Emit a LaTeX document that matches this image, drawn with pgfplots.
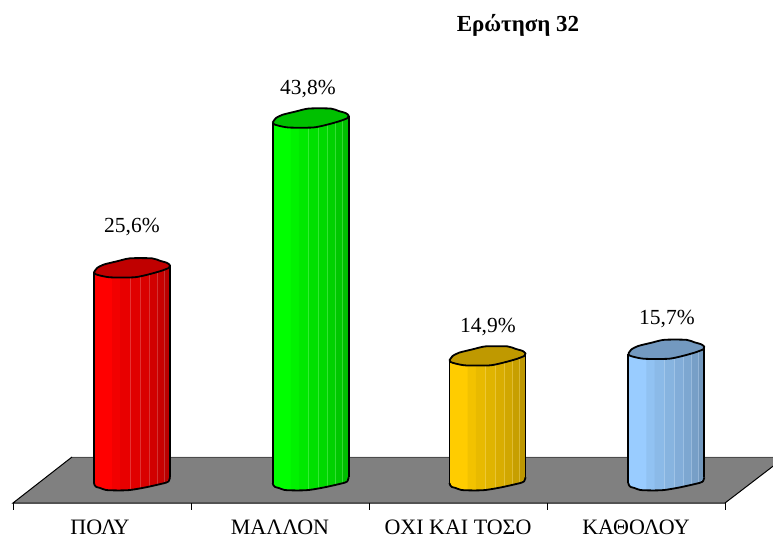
\documentclass[border=0pt]{standalone}
\usepackage{pgfplots}
\pgfplotsset{compat=1.18}
\usepackage{fontspec}
\setmainfont{Liberation Serif}
\newcommand\facet[6]{%
  \addplot[fill=#6,draw=none,forget plot] coordinates {
    ({#1+#3},{(#5)/8.23})
    ({#1+#4},{(\facetb)/8.23})
    ({#1+#4},{#2+(0.09*#4)/8.23})
    ({#1+#3},{#2+(0.09*#3)/8.23})} -- cycle;}
\newcommand\Fct[7]{\def\facetb{#6}\facet{#1}{#2}{#3}{#4}{#5}{#7}}
\newcommand\seam[5]{%
  \addplot[white,opacity=.2,line width=.7pt,forget plot] coordinates {
    ({#1+#3},{(#4)/8.23}) ({#1+#3},{#2+(#5)/8.23})};}
\newcommand\column[5]{% x, value, base colour, cap colour, darkest mix
  \addplot[fill=#3,draw=none,forget plot] coordinates {
    ({#1},{#2}) ({#1},0) ({#1+2.4},-0.486) ({#1+12},-0.85) ({#1+36},-0.85)
    ({#1+52},-0.52) ({#1+72},0.04) ({#1+76},0.61) ({#1+76},{#2+0.85})} -- cycle;
  \Fct{#1}{#2}{18}{26}{-7.2}{-7.2}{#3!95!black}
  \Fct{#1}{#2}{26}{36}{-7.2}{-7}{#3!91!black}
  \Fct{#1}{#2}{36}{46}{-7}{-5.3}{#3!88!black}
  \Fct{#1}{#2}{46}{55}{-5.3}{-3.6}{#3!85!black}
  \Fct{#1}{#2}{55}{63}{-3.6}{-2}{#3!82!black}
  \Fct{#1}{#2}{63}{70}{-2}{-0.3}{#3!78!black}
  \Fct{#1}{#2}{70}{76}{-0.3}{5}{#3!#5!black}
  \seam{#1}{#2}{36}{-7}{3}
  \seam{#1}{#2}{46}{-5.3}{4}
  \seam{#1}{#2}{55}{-3.6}{5}
  \seam{#1}{#2}{63}{-2}{5.5}
  \seam{#1}{#2}{70}{-0.3}{6}
  \addplot[black,line width=1.8pt,line join=round,forget plot] coordinates {({#1},{#2}) ({#1},0)};
  \addplot[black,line width=1.8pt,line join=round,forget plot] coordinates {({#1+76},{#2+0.85}) ({#1+76},0.7)};
  \addplot[black,line width=1.8pt,line join=round,smooth,tension=0.45,forget plot] coordinates {
    ({#1},0) ({#1+0.8},-0.3) ({#1+2.4},-0.486) ({#1+6},-0.6) ({#1+12},-0.85) ({#1+24},-0.9) ({#1+36},-0.85)
    ({#1+52},-0.52) ({#1+72},0.04) ({#1+75},0.3) ({#1+76},0.7)};
  \addplot[fill=#4,draw=black,line width=1.8pt,line join=round,smooth,tension=0.4,forget plot] coordinates {
    ({#1},{#2}) ({#1+3},{#2+0.52}) ({#1+9.7},{#2+0.94}) ({#1+23},{#2+1.34}) ({#1+36},{#2+1.7})
    ({#1+58},{#2+1.7}) ({#1+66},{#2+1.4}) ({#1+73},{#2+1.15}) ({#1+76},{#2+0.85}) ({#1+75},{#2+0.55})
    ({#1+68},{#2+0.21}) ({#1+59.7},{#2-0.09}) ({#1+49.7},{#2-0.4}) ({#1+39.7},{#2-0.61}) ({#1+16.3},{#2-0.61})
    ({#1+6.3},{#2-0.4}) ({#1+1.3},{#2-0.21}) ({#1},{#2})};}
\definecolor{cRed}{RGB}{255,0,0}\definecolor{cRedT}{RGB}{192,0,0}
\definecolor{cGrn}{RGB}{0,255,0}\definecolor{cGrnT}{RGB}{0,192,0}
\definecolor{cYel}{RGB}{255,204,0}\definecolor{cYelT}{RGB}{191,153,0}
\definecolor{cBlu}{RGB}{153,204,255}\definecolor{cBluT}{RGB}{115,153,192}
\begin{document}
\begin{tikzpicture}
\begin{axis}[
  at={(0,0)},anchor=south west,
  scale only axis,width=773pt,height=537pt,
  xmin=0,xmax=773,ymin=-6.561,ymax=58.688,
  axis line style={draw=none},major tick style={draw=none},major tick length=0pt,
  ytick=\empty,
  xtick={100,280,458,636},
  xticklabels={ΠΟΛΥ,ΜΑΛΛΟΝ,ΟΧΙ ΚΑΙ ΤΟΣΟ,ΚΑΘΟΛΟΥ},
  xticklabel style={anchor=base,yshift=3pt,font=\fontsize{22}{24}\selectfont},
]
% floor
\addplot[fill=black!50,draw=none,forget plot] coordinates {(13,-2.43)(725,-2.43)(785,3.16)(72,3.16)} -- cycle;
\addplot[black!70,line width=.9pt,forget plot] coordinates {(72,3.16)(785,3.16)};
\addplot[black,line width=1pt,forget plot] coordinates {(72,3.16)(13,-2.43)(725,-2.43)(785,3.16)};
% ticks
\addplot[black,line width=.8pt,forget plot] coordinates {(13,-2.43)(13,-3.28)};
\addplot[black,line width=.8pt,forget plot] coordinates {(191,-2.43)(191,-3.28)};
\addplot[black,line width=.8pt,forget plot] coordinates {(369,-2.43)(369,-3.28)};
\addplot[black,line width=.8pt,forget plot] coordinates {(547,-2.43)(547,-3.28)};
\addplot[black,line width=.8pt,forget plot] coordinates {(725,-2.43)(725,-3.28)};
% columns
\column{94}{25.6}{cRed}{cRedT}{72}
\column{272.7}{43.8}{cGrn}{cGrnT}{74}
\column{449.5}{14.9}{cYel}{cYelT}{74}
\column{628.3}{15.7}{cBlu}{cBluT}{74}
% labels
\node[font=\fontsize{21.5}{24}\selectfont] at (axis cs:132,31.1) {25,6\%};
\node[font=\fontsize{21.5}{24}\selectfont] at (axis cs:308,47.9) {43,8\%};
\node[font=\fontsize{21.5}{24}\selectfont] at (axis cs:488,19) {14,9\%};
\node[font=\fontsize{21.5}{24}\selectfont] at (axis cs:667,19.9) {15,7\%};
\node[font=\fontsize{23}{24}\selectfont\bfseries] at (axis cs:518,55.6) {Ερώτηση 32};
\end{axis}
\end{tikzpicture}
\end{document}
